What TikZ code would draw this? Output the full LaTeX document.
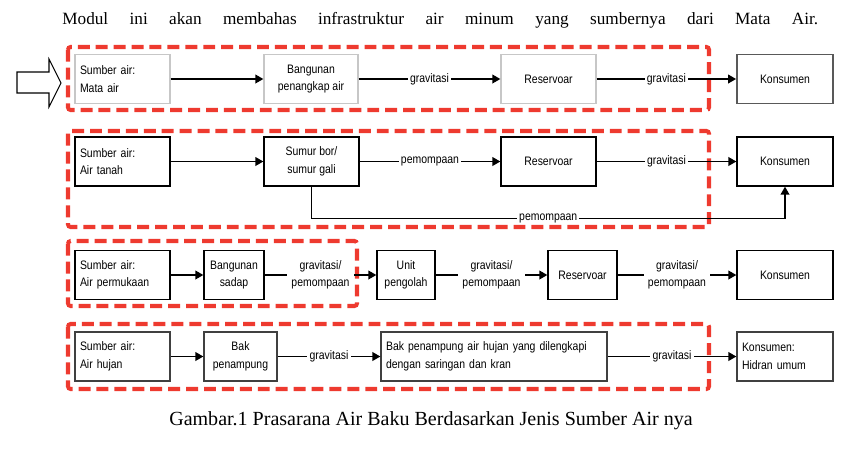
\documentclass[tikz,border=0pt]{standalone}
\usepackage{fontspec}
\setmainfont{Liberation Serif}
\newfontfamily\boxfont[FakeStretch=0.85]{Liberation Sans}
\usetikzlibrary{arrows.meta, calc}
\definecolor{zonered}{HTML}{EE3A2F}

\begin{document}
\begin{tikzpicture}[x=0.02cm, y=-0.02cm, >={Triangle[length=4.5pt, width=5pt]},
    box/.style={draw, line width=0.8pt, minimum height=0.98cm, inner sep=0pt,
      align=center, font=\boxfont\fontsize{7}{10}\selectfont},
    leftbox/.style={box, align=left, text width=#1, inner xsep=0.1cm},
    lbl/.style={fill=white, inner xsep=1.2pt, inner ysep=0.5pt, align=center,
      font=\boxfont\fontsize{7}{10}\selectfont},
    conn/.style={->, line width=0.7pt},
    zone/.style={draw=zonered, line width=2.3pt, dash pattern=on 6.8pt off 3.4pt,
      rounded corners=1.5pt}]
    \useasboundingbox (0,0) rectangle (851,464);

    \node[anchor=base west, inner sep=0pt, font=\fontsize{9.8}{11}\selectfont] (intro) at (62,24)
    {\makebox[15.12cm][s]{Modul ini akan membahas infrastruktur air minum yang sumbernya dari Mata Air.}};

    % red zones
    \draw[zone] (68,47) rectangle (709,110);
    \draw[zone] (68,131) rectangle (709,227);
    \draw[zone] (68,241) rectangle (357,306);
    \draw[zone] (68,324) rectangle (709,389);

    % pointer
    \draw[line width=0.6pt, fill=white]
    (17,72) -- (49,72) -- (49,59) -- (61,83) -- (49,107) -- (49,93) -- (17,93) -- cycle;

    % mata air
    \node[leftbox=1.7cm, draw=black!22] (src1) at (122.5,79) {Sumber air:\\Mata air};
    \node[box, draw=black!22, minimum width=1.88cm] (intake1) at (311,79) {Bangunan\\penangkap air};
    \node[box, draw=black!22, minimum width=1.9cm] (res1) at (548.5,79) {Reservoar};
    \node[box, draw=black!65, line width=1.1pt, minimum width=1.92cm] (cons1) at (785,79) {Konsumen};

    \draw[conn] (src1) -- (intake1);
    \draw[conn] (intake1) -- node[lbl] (g11) {gravitasi} (res1);
    \draw[conn] (res1) -- node[lbl] (g12) {gravitasi} (cons1);

    % air tanah
    \node[leftbox=1.7cm] (src2) at (122.5,161.5) {Sumber air:\\Air tanah};
    \node[box, minimum width=1.9cm] (well2) at (311.5,161.5) {Sumur bor/\\sumur gali};
    \node[box, minimum width=1.9cm] (res2) at (548.5,161.5) {Reservoar};
    \node[box, minimum width=1.92cm] (cons2) at (785,161.5) {Konsumen};

    \draw[conn] (src2) -- (well2);
    \draw[conn] (well2) -- node[lbl] (p21) {pemompaan} (res2);
    \draw[conn] (res2) -- node[lbl] (g22) {gravitasi} (cons2);
    \draw[conn] (well2.south) -- ++(0,32) -| node[lbl, pos=0.25] (p23) {pemompaan} (cons2.south);

    % air permukaan
    \node[leftbox=1.7cm] (src3) at (122.5,275) {Sumber air:\\Air permukaan};
    \node[box, minimum width=1.2cm] (sadap3) at (234,275) {Bangunan\\sadap};
    \node[box, minimum width=1.16cm] (plant3) at (406,275) {Unit\\pengolah};
    \node[box, minimum width=1.38cm] (res3) at (582.5,275) {Reservoar};
    \node[box, minimum width=1.92cm] (cons3) at (785,275) {Konsumen};

    \draw[conn] (src3) -- (sadap3);
    \draw[conn] (sadap3) -- node[lbl, inner xsep=2.5pt] (gp31) {gravitasi/\\pemompaan} (plant3);
    \draw[conn] (plant3) -- node[lbl, inner xsep=2.5pt] (gp32) {gravitasi/\\pemompaan} (res3);
    \draw[conn] (res3) -- node[lbl, inner xsep=2.5pt] (gp33) {gravitasi/\\pemompaan} (cons3);

    % air hujan
    \node[leftbox=1.7cm, draw=black!75] (src4) at (122.5,356.5) {Sumber air:\\Air hujan};
    \node[box, draw=black!75, minimum width=1.46cm] (tank4) at (240.5,356.5) {Bak\\penampung};
    \node[leftbox=4.32cm, draw=black!75] (filt4) at (494,356.5)
    {Bak penampung air hujan yang dilengkapi\\dengan saringan dan kran};
    \node[leftbox=1.72cm, draw=black!75] (cons4) at (785,356.5) {Konsumen:\\Hidran umum};

    \draw[conn] (src4) -- (tank4);
    \draw[conn] (tank4) -- node[lbl] (g41) {gravitasi} (filt4);
    \draw[conn] (filt4) -- node[lbl] (g42) {gravitasi} (cons4);

    \node[anchor=base, inner sep=0pt, font=\fontsize{11.4}{13}\selectfont] (caption) at (431,425)
    {Gambar.1 Prasarana Air Baku Berdasarkan Jenis Sumber Air nya};
\end{tikzpicture}
\end{document}
